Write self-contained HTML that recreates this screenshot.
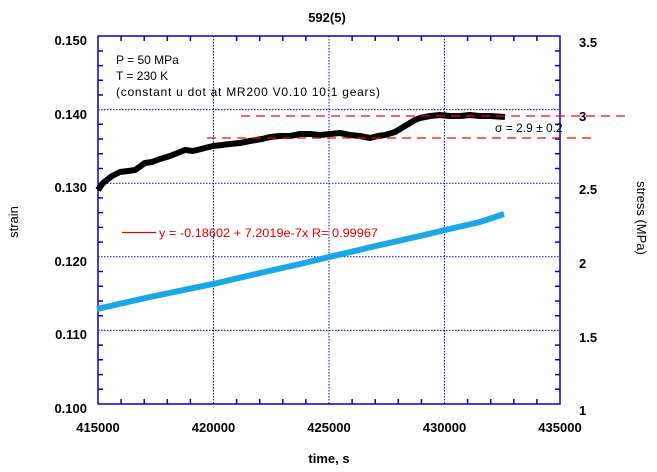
<!DOCTYPE html>
<html><head><style>body{margin:0;background:#fff}svg{display:block}text{font-family:"Liberation Sans",sans-serif}</style></head><body>
<svg width="657" height="472" xmlns="http://www.w3.org/2000/svg">
<rect width="657" height="472" fill="#fff"/>
<g stroke="#0000cc" stroke-width="1" stroke-dasharray="1.5,1.5" fill="none">
<line x1="213.5" y1="36" x2="213.5" y2="404"/>
<line x1="329" y1="36" x2="329" y2="404"/>
<line x1="444.5" y1="36" x2="444.5" y2="404"/>
<line x1="98" y1="109.6" x2="560" y2="109.6"/>
<line x1="98" y1="183.2" x2="560" y2="183.2"/>
<line x1="98" y1="256.8" x2="560" y2="256.8"/>
<line x1="98" y1="330.4" x2="560" y2="330.4"/>
</g>
<g stroke="#0000cc" stroke-width="1.5">
<path d="M98,51 h5 M98,65.6 h5 M98,80.3 h5 M98,95 h5 M98,124.3 h5 M98,139 h5 M98,153.7 h5 M98,168.5 h5 M98,197.9 h5 M98,212.6 h5 M98,227.4 h5 M98,242.1 h5 M98,271.5 h5 M98,286.2 h5 M98,301 h5 M98,315.7 h5 M98,345.1 h5 M98,359.8 h5 M98,374.6 h5 M98,389.3 h5"/>
<path d="M560,51 h-5 M560,65.6 h-5 M560,80.3 h-5 M560,95 h-5 M560,124.3 h-5 M560,139 h-5 M560,153.7 h-5 M560,168.5 h-5 M560,197.9 h-5 M560,212.6 h-5 M560,227.4 h-5 M560,242.1 h-5 M560,271.5 h-5 M560,286.2 h-5 M560,301 h-5 M560,315.7 h-5 M560,345.1 h-5 M560,359.8 h-5 M560,374.6 h-5 M560,389.3 h-5"/>
<path d="M121.1,404 v-5 M144.2,404 v-5 M167.3,404 v-5 M190.4,404 v-5 M236.6,404 v-5 M259.7,404 v-5 M282.8,404 v-5 M305.9,404 v-5 M352.1,404 v-5 M375.2,404 v-5 M398.3,404 v-5 M421.4,404 v-5 M467.6,404 v-5 M490.7,404 v-5 M513.8,404 v-5 M536.9,404 v-5"/>
<path d="M121.1,36 v5 M144.2,36 v5 M167.3,36 v5 M190.4,36 v5 M236.6,36 v5 M259.7,36 v5 M282.8,36 v5 M305.9,36 v5 M352.1,36 v5 M375.2,36 v5 M398.3,36 v5 M421.4,36 v5 M467.6,36 v5 M490.7,36 v5 M513.8,36 v5 M536.9,36 v5"/>
</g>
<rect x="98" y="36" width="462" height="368" fill="none" stroke="#0000cc" stroke-width="1.5"/>
<polyline fill="none" stroke="#1aa7e6" stroke-width="6" points="97,309 150,297 213,284 260,273 300,264 329,257 380,245 420,236 445,230 480,222 504,214"/>
<polyline fill="none" stroke="#000" stroke-width="6" stroke-linejoin="round" points="98,190 103,183 112,176 120,172 128,171 135,170 145,163 152,162 160,159 170,156 175,154 185,150 193,151 213,146 222,145 230,144 240,143 250,141 262,139 270,137 280,136 290,136 300,134 310,134 320,135 330,134 340,133 350,135 360,136 370,138 378,136 385,135 395,132 405,126 415,120 420,118 430,116 440,115 450,116 460,116 470,115 480,116 490,116 505,117"/>
<g stroke="#ff0000" stroke-width="1.3" stroke-dasharray="9,6">
<line x1="241" y1="116" x2="630" y2="116"/>
<line x1="207" y1="138" x2="593" y2="138"/>
</g>
<line x1="122" y1="232.5" x2="156" y2="232.5" stroke="#dd0000" stroke-width="1.3"/>
<text x="159" y="237" font-size="12" fill="#dd0000" textLength="219" lengthAdjust="spacingAndGlyphs">y = -0.18602 + 7.2019e-7x   R= 0.99967</text>
<text x="495" y="132" font-size="12" fill="#000">σ = 2.9 ± 0.2</text>
<g font-size="12" fill="#000">
<text x="116" y="64">P = 50 MPa</text>
<text x="116" y="80">T = 230 K</text>
<text x="116" y="96" textLength="264">(constant u dot at MR200 V0.10 10:1 gears)</text>
</g>
<g font-size="13" font-weight="bold" fill="#000">
<text x="327" y="22" text-anchor="middle">592(5)</text>
<text x="329" y="463" text-anchor="middle">time, s</text>
<g text-anchor="end">
<text x="87" y="45">0.150</text><text x="87" y="119">0.140</text><text x="87" y="192">0.130</text><text x="87" y="266">0.120</text><text x="87" y="339">0.110</text><text x="87" y="413">0.100</text>
</g>
<g text-anchor="middle">
<text x="98" y="432">415000</text><text x="213.5" y="432">420000</text><text x="329" y="432">425000</text><text x="444.5" y="432">430000</text><text x="560" y="432">435000</text>
</g>
<g>
<text x="579" y="47">3.5</text><text x="579" y="121">3</text><text x="579" y="194">2.5</text><text x="579" y="268">2</text><text x="579" y="342">1.5</text><text x="579" y="415">1</text>
</g>
<text transform="translate(18,222) rotate(-90)" text-anchor="middle" font-weight="normal">strain</text>
<text transform="translate(637,218) rotate(90)" text-anchor="middle" font-weight="normal">stress (MPa)</text>
</g>
</svg>
</body></html>
